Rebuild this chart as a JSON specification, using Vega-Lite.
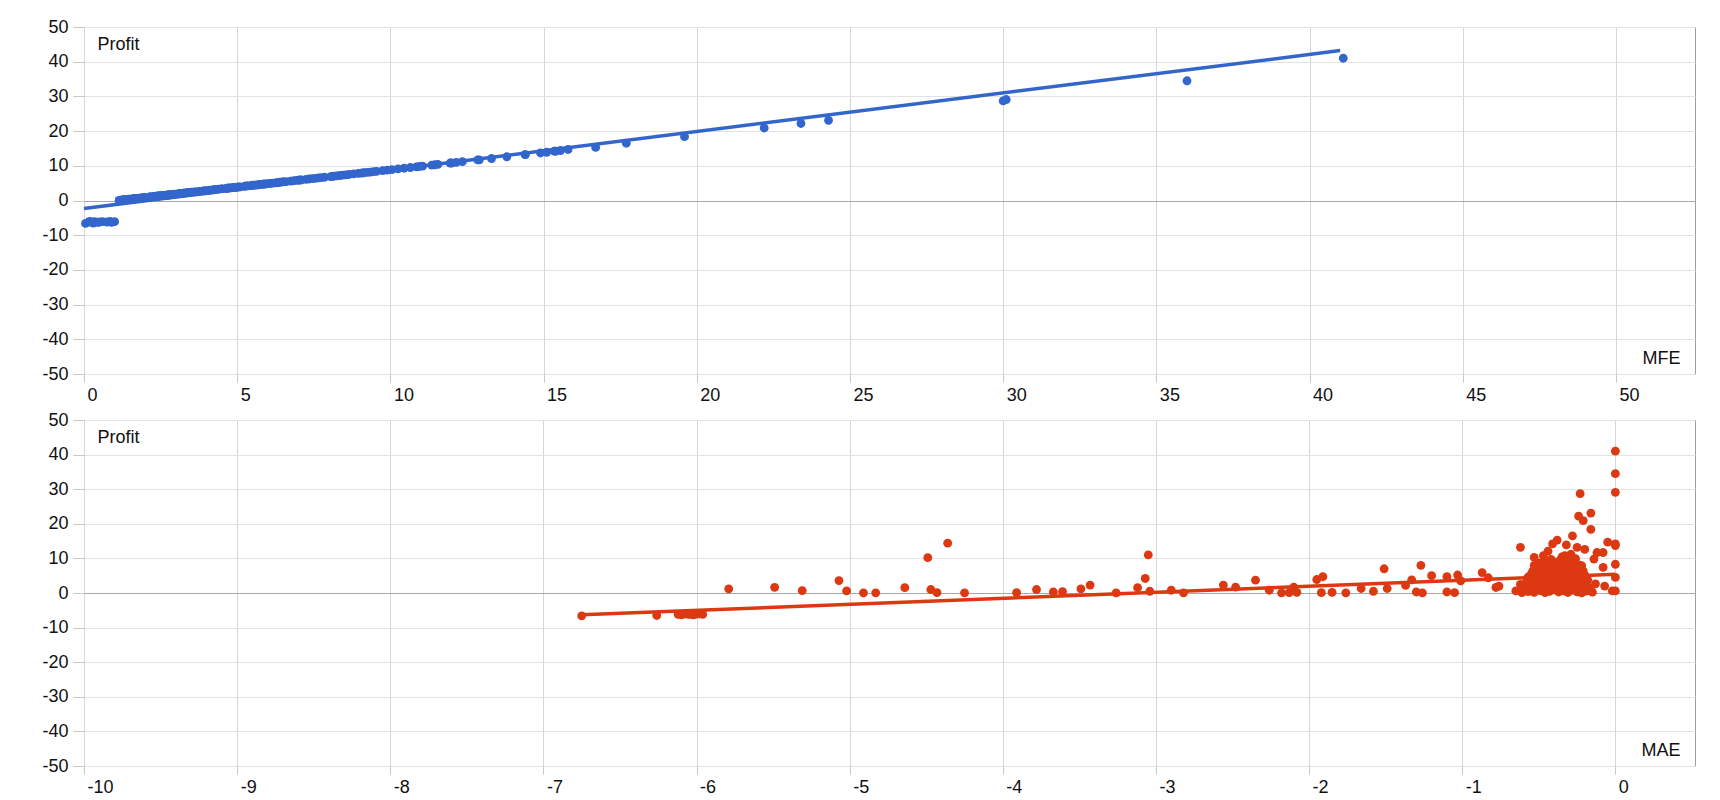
{
  "$schema": "https://vega.github.io/schema/vega-lite/v6.json",
  "padding": {"left": 5, "top": 17, "right": 5, "bottom": 5},
  "spacing": 5,
  "background": "white",
  "config": {
    "font": "Liberation Sans",
    "view": {"stroke": "#9e9e9e", "strokeWidth": 1},
    "axis": {
      "labelFont": "Liberation Sans", "labelFontSize": 18, "labelColor": "#111111",
      "titleFont": "Liberation Sans", "titleFontSize": 18, "titleFontWeight": "normal", "titleColor": "#111111",
      "domain": false, "tickColor": "#c8c8c8",
      "labelFlush": false, "labelOverlap": false, "labelExpr": "'' + datum.value"
    }
  },
  "datasets": {
    "trades": [
      {"MFE":0.05,"MAE":-6.75,"Profit":-6.6},{"MFE":0.3,"MAE":-6.26,"Profit":-6.5},{"MFE":0.15,"MAE":-6.12,"Profit":-6.2},{"MFE":0.45,"MAE":-6.1,"Profit":-6.3},
      {"MFE":0.6,"MAE":-6.08,"Profit":-6.1},{"MFE":0.75,"MAE":-6.05,"Profit":-6.2},{"MFE":0.9,"MAE":-6.02,"Profit":-6.3},{"MFE":1.0,"MAE":-6.0,"Profit":-6.1},
      {"MFE":0.2,"MAE":-5.98,"Profit":-6.0},{"MFE":0.5,"MAE":-5.96,"Profit":-6.2},{"MFE":0.85,"MAE":-6.06,"Profit":-6.0},{"MFE":0.35,"MAE":-6.04,"Profit":-6.1},

      {"MFE":2.35,"MAE":-5.79,"Profit":1.2},{"MFE":2.8,"MAE":-5.49,"Profit":1.65},{"MFE":1.85,"MAE":-5.31,"Profit":0.7},{"MFE":4.75,"MAE":-5.07,"Profit":3.6},
      {"MFE":1.75,"MAE":-5.02,"Profit":0.6},{"MFE":1.2,"MAE":-4.91,"Profit":0.05},{"MFE":1.15,"MAE":-4.83,"Profit":0.05},{"MFE":2.7,"MAE":-4.64,"Profit":1.55},
      {"MFE":2.15,"MAE":-4.47,"Profit":1.0},{"MFE":11.35,"MAE":-4.49,"Profit":10.2},{"MFE":15.55,"MAE":-4.36,"Profit":14.4},{"MFE":1.25,"MAE":-4.43,"Profit":0.1},
      {"MFE":1.2,"MAE":-4.25,"Profit":0.05},{"MFE":1.25,"MAE":-3.91,"Profit":0.1},{"MFE":2.15,"MAE":-3.78,"Profit":1.0},{"MFE":1.45,"MAE":-3.67,"Profit":0.3},
      {"MFE":1.55,"MAE":-3.61,"Profit":0.4},{"MFE":2.35,"MAE":-3.49,"Profit":1.2},{"MFE":3.45,"MAE":-3.43,"Profit":2.3},{"MFE":1.2,"MAE":-3.26,"Profit":0.05},
      {"MFE":2.7,"MAE":-3.12,"Profit":1.55},{"MFE":5.35,"MAE":-3.07,"Profit":4.2},{"MFE":12.15,"MAE":-3.05,"Profit":11.0},{"MFE":1.65,"MAE":-3.04,"Profit":0.5},
      {"MFE":1.95,"MAE":-2.9,"Profit":0.8},{"MFE":1.2,"MAE":-2.82,"Profit":0.05},{"MFE":3.45,"MAE":-2.56,"Profit":2.3},{"MFE":2.85,"MAE":-2.48,"Profit":1.7},
      {"MFE":4.85,"MAE":-2.35,"Profit":3.7},{"MFE":1.95,"MAE":-2.26,"Profit":0.8},{"MFE":1.2,"MAE":-2.18,"Profit":0.05},{"MFE":2.85,"MAE":-2.1,"Profit":1.7},
      {"MFE":1.25,"MAE":-2.13,"Profit":0.1},{"MFE":1.35,"MAE":-2.08,"Profit":0.2},{"MFE":5.05,"MAE":-1.95,"Profit":3.9},{"MFE":5.85,"MAE":-1.91,"Profit":4.7},
      {"MFE":1.25,"MAE":-1.92,"Profit":0.1},{"MFE":1.35,"MAE":-1.85,"Profit":0.2},{"MFE":1.2,"MAE":-1.76,"Profit":0.05},{"MFE":2.45,"MAE":-1.66,"Profit":1.3},
      {"MFE":1.65,"MAE":-1.58,"Profit":0.5},{"MFE":8.15,"MAE":-1.51,"Profit":7.0},{"MFE":2.45,"MAE":-1.49,"Profit":1.3},{"MFE":3.35,"MAE":-1.37,"Profit":2.2},
      {"MFE":4.95,"MAE":-1.33,"Profit":3.8},{"MFE":1.45,"MAE":-1.3,"Profit":0.3},{"MFE":9.15,"MAE":-1.27,"Profit":8.0},{"MFE":1.2,"MAE":-1.26,"Profit":0.05},
      {"MFE":6.15,"MAE":-1.2,"Profit":5.0},{"MFE":5.85,"MAE":-1.1,"Profit":4.7},{"MFE":1.45,"MAE":-1.1,"Profit":0.3},{"MFE":1.25,"MAE":-1.05,"Profit":0.1},
      {"MFE":6.35,"MAE":-1.03,"Profit":5.2},{"MFE":4.65,"MAE":-1.01,"Profit":3.5},{"MFE":7.05,"MAE":-0.87,"Profit":5.9},{"MFE":5.55,"MAE":-0.83,"Profit":4.4},
      {"MFE":2.75,"MAE":-0.78,"Profit":1.6},{"MFE":3.15,"MAE":-0.76,"Profit":2.0},{"MFE":1.75,"MAE":-0.65,"Profit":0.6},{"MFE":14.4,"MAE":-0.62,"Profit":13.2},
      {"MFE":3.65,"MAE":-0.62,"Profit":2.5},

      {"MFE":1.2,"MAE":-0.61,"Profit":0.1},{"MFE":1.5,"MAE":-0.57,"Profit":0.4},{"MFE":1.3,"MAE":-0.53,"Profit":0.2},{"MFE":1.8,"MAE":-0.49,"Profit":0.7},
      {"MFE":1.25,"MAE":-0.46,"Profit":0.1},{"MFE":1.6,"MAE":-0.43,"Profit":0.5},{"MFE":2.0,"MAE":-0.4,"Profit":0.9},{"MFE":1.4,"MAE":-0.37,"Profit":0.3},
      {"MFE":1.75,"MAE":-0.34,"Profit":0.6},{"MFE":1.3,"MAE":-0.31,"Profit":0.15},{"MFE":1.9,"MAE":-0.28,"Profit":0.8},{"MFE":1.45,"MAE":-0.25,"Profit":0.35},
      {"MFE":1.15,"MAE":-0.22,"Profit":0.05},{"MFE":1.65,"MAE":-0.19,"Profit":0.55},{"MFE":1.35,"MAE":-0.15,"Profit":0.25},

      {"MFE":2.6,"MAE":-0.6,"Profit":1.5},{"MFE":2.25,"MAE":-0.56,"Profit":1.1},{"MFE":2.95,"MAE":-0.52,"Profit":1.8},{"MFE":2.4,"MAE":-0.48,"Profit":1.3},
      {"MFE":3.05,"MAE":-0.45,"Profit":1.9},{"MFE":2.3,"MAE":-0.42,"Profit":1.2},{"MFE":2.75,"MAE":-0.39,"Profit":1.6},{"MFE":2.2,"MAE":-0.36,"Profit":1.05},
      {"MFE":2.85,"MAE":-0.33,"Profit":1.7},{"MFE":2.5,"MAE":-0.3,"Profit":1.4},{"MFE":3.1,"MAE":-0.27,"Profit":1.95},{"MFE":2.35,"MAE":-0.24,"Profit":1.25},
      {"MFE":2.8,"MAE":-0.2,"Profit":1.65},{"MFE":2.55,"MAE":-0.17,"Profit":1.45},

      {"MFE":3.5,"MAE":-0.59,"Profit":2.4},{"MFE":3.25,"MAE":-0.55,"Profit":2.1},{"MFE":3.95,"MAE":-0.51,"Profit":2.8},{"MFE":3.4,"MAE":-0.47,"Profit":2.3},
      {"MFE":4.1,"MAE":-0.44,"Profit":2.95},{"MFE":3.3,"MAE":-0.41,"Profit":2.2},{"MFE":3.75,"MAE":-0.38,"Profit":2.6},{"MFE":3.2,"MAE":-0.35,"Profit":2.05},
      {"MFE":3.9,"MAE":-0.32,"Profit":2.75},{"MFE":3.6,"MAE":-0.29,"Profit":2.5},{"MFE":4.05,"MAE":-0.26,"Profit":2.9},{"MFE":3.45,"MAE":-0.21,"Profit":2.35},
      {"MFE":3.8,"MAE":-0.13,"Profit":2.65},

      {"MFE":4.4,"MAE":-0.58,"Profit":3.3},{"MFE":4.95,"MAE":-0.54,"Profit":3.8},{"MFE":4.25,"MAE":-0.5,"Profit":3.1},{"MFE":4.7,"MAE":-0.46,"Profit":3.6},
      {"MFE":5.1,"MAE":-0.43,"Profit":3.95},{"MFE":4.3,"MAE":-0.4,"Profit":3.2},{"MFE":4.85,"MAE":-0.36,"Profit":3.7},{"MFE":4.5,"MAE":-0.33,"Profit":3.4},
      {"MFE":5.0,"MAE":-0.3,"Profit":3.85},{"MFE":4.2,"MAE":-0.27,"Profit":3.05},{"MFE":4.65,"MAE":-0.23,"Profit":3.5},{"MFE":4.9,"MAE":-0.18,"Profit":3.75},

      {"MFE":5.75,"MAE":-0.57,"Profit":4.6},{"MFE":5.3,"MAE":-0.52,"Profit":4.2},{"MFE":6.05,"MAE":-0.48,"Profit":4.9},{"MFE":5.5,"MAE":-0.44,"Profit":4.4},
      {"MFE":5.9,"MAE":-0.41,"Profit":4.75},{"MFE":5.25,"MAE":-0.37,"Profit":4.1},{"MFE":5.7,"MAE":-0.34,"Profit":4.55},{"MFE":6.1,"MAE":-0.31,"Profit":4.95},
      {"MFE":5.45,"MAE":-0.28,"Profit":4.3},{"MFE":5.95,"MAE":-0.24,"Profit":4.8},{"MFE":5.6,"MAE":-0.19,"Profit":4.45},

      {"MFE":6.5,"MAE":-0.55,"Profit":5.4},{"MFE":6.95,"MAE":-0.5,"Profit":5.8},{"MFE":6.25,"MAE":-0.46,"Profit":5.1},{"MFE":6.75,"MAE":-0.42,"Profit":5.6},
      {"MFE":7.1,"MAE":-0.38,"Profit":5.95},{"MFE":6.4,"MAE":-0.35,"Profit":5.25},{"MFE":6.85,"MAE":-0.31,"Profit":5.7},{"MFE":6.6,"MAE":-0.27,"Profit":5.45},
      {"MFE":7.0,"MAE":-0.23,"Profit":5.85},{"MFE":6.3,"MAE":-0.2,"Profit":5.15},

      {"MFE":7.45,"MAE":-0.54,"Profit":6.3},{"MFE":7.85,"MAE":-0.49,"Profit":6.7},{"MFE":7.25,"MAE":-0.45,"Profit":6.1},{"MFE":7.65,"MAE":-0.4,"Profit":6.5},
      {"MFE":8.05,"MAE":-0.36,"Profit":6.9},{"MFE":7.35,"MAE":-0.32,"Profit":6.2},{"MFE":7.75,"MAE":-0.29,"Profit":6.6},{"MFE":8.1,"MAE":-0.25,"Profit":6.95},
      {"MFE":7.55,"MAE":-0.21,"Profit":6.4},

      {"MFE":8.65,"MAE":-0.52,"Profit":7.5},{"MFE":8.25,"MAE":-0.47,"Profit":7.1},{"MFE":8.95,"MAE":-0.43,"Profit":7.8},{"MFE":8.45,"MAE":-0.38,"Profit":7.3},
      {"MFE":8.8,"MAE":-0.33,"Profit":7.65},{"MFE":8.35,"MAE":-0.28,"Profit":7.2},{"MFE":9.05,"MAE":-0.22,"Profit":7.9},

      {"MFE":9.75,"MAE":-0.5,"Profit":8.6},{"MFE":9.35,"MAE":-0.44,"Profit":8.2},{"MFE":10.05,"MAE":-0.39,"Profit":8.9},{"MFE":9.55,"MAE":-0.34,"Profit":8.4},
      {"MFE":9.9,"MAE":-0.29,"Profit":8.75},{"MFE":9.25,"MAE":-0.24,"Profit":8.1},

      {"MFE":10.45,"MAE":-0.47,"Profit":9.3},{"MFE":10.85,"MAE":-0.42,"Profit":9.7},{"MFE":10.25,"MAE":-0.37,"Profit":9.1},{"MFE":10.65,"MAE":-0.3,"Profit":9.5},
      {"MFE":11.05,"MAE":-0.26,"Profit":9.9},

      {"MFE":11.55,"MAE":-0.35,"Profit":10.4},{"MFE":12.35,"MAE":-0.29,"Profit":11.2},{"MFE":13.3,"MAE":-0.44,"Profit":12.1},{"MFE":13.8,"MAE":-0.2,"Profit":12.6},
      {"MFE":12.9,"MAE":-0.12,"Profit":11.7},

      {"MFE":11.45,"MAE":-0.53,"Profit":10.3},{"MFE":9.1,"MAE":-0.53,"Profit":7.95},{"MFE":11.95,"MAE":-0.47,"Profit":10.8},{"MFE":15.35,"MAE":-0.41,"Profit":14.2},
      {"MFE":16.7,"MAE":-0.38,"Profit":15.3},{"MFE":12.0,"MAE":-0.33,"Profit":10.8},{"MFE":15.1,"MAE":-0.32,"Profit":13.9},{"MFE":17.7,"MAE":-0.28,"Profit":16.5},
      {"MFE":14.4,"MAE":-0.25,"Profit":13.2},{"MFE":30.0,"MAE":-0.23,"Profit":28.7},{"MFE":23.4,"MAE":-0.24,"Profit":22.2},{"MFE":22.2,"MAE":-0.21,"Profit":20.9},
      {"MFE":24.3,"MAE":-0.16,"Profit":23.1},{"MFE":19.6,"MAE":-0.16,"Profit":18.4},{"MFE":10.95,"MAE":-0.14,"Profit":9.8},{"MFE":8.55,"MAE":-0.08,"Profit":7.4},
      {"MFE":15.8,"MAE":-0.05,"Profit":14.7},{"MFE":12.85,"MAE":-0.08,"Profit":11.7},{"MFE":3.15,"MAE":-0.07,"Profit":2.0},{"MFE":1.75,"MAE":-0.02,"Profit":0.6},
      {"MFE":41.1,"MAE":0.0,"Profit":41.0},{"MFE":36.0,"MAE":0.0,"Profit":34.5},{"MFE":30.1,"MAE":0.0,"Profit":29.1},{"MFE":15.4,"MAE":0.0,"Profit":14.2},
      {"MFE":14.9,"MAE":0.0,"Profit":13.7},{"MFE":9.45,"MAE":0.0,"Profit":8.3},{"MFE":5.65,"MAE":0.0,"Profit":4.5},{"MFE":1.7,"MAE":0.0,"Profit":0.6}
    ],
    "trendMFE": [{"MFE":0,"Profit":-2.3},{"MFE":41.0,"Profit":43.2}],
    "trendMAE": [{"MAE":-6.75,"Profit":-6.3},{"MAE":0,"Profit":5.4}]
  },
  "vconcat": [
    {
      "width": 1611, "height": 347,
      "encoding": {
        "x": {"field": "MFE", "type": "quantitative", "scale": {"domain": [0, 52.58], "nice": false, "zero": false},
          "axis": {"values": [0,5,10,15,20,25,30,35,40,45,50], "grid": true, "gridColor": "#d6d6d6", "tickSize": 8, "labelPadding": 4, "labelAlign": "left", "labelOffset": 3, "minExtent": 30, "maxExtent": 30,
            "title": "MFE", "titleX": 1596, "titleY": -16, "titleAlign": "right", "titleBaseline": "middle", "titleAngle": 0}},
        "y": {"field": "Profit", "type": "quantitative", "scale": {"domain": [-50, 50], "nice": false},
          "axis": {"values": [-50,-40,-30,-20,-10,0,10,20,30,40,50], "grid": true,
            "gridColor": {"condition": {"test": "datum.value === 0", "value": "#a8a8a8"}, "value": "#e2e2e2"},
            "tickSize": 11, "labelPadding": 5, "minExtent": 78, "maxExtent": 78,
            "title": "Profit", "titleX": 13, "titleY": 17, "titleAlign": "left", "titleBaseline": "middle", "titleAngle": 0}}
      },
      "layer": [
        {"data": {"name": "trendMFE"}, "mark": {"type": "line", "color": "#3366cc", "strokeWidth": 3.5}},
        {"data": {"name": "trades"}, "mark": {"type": "circle", "color": "#3366cc", "size": 78, "opacity": 1}}
      ]
    },
    {
      "width": 1611, "height": 346,
      "encoding": {
        "x": {"field": "MAE", "type": "quantitative", "scale": {"domain": [-10, 0.52], "nice": false, "zero": false},
          "axis": {"values": [-10,-9,-8,-7,-6,-5,-4,-3,-2,-1,0], "grid": true, "gridColor": "#d6d6d6", "tickSize": 8, "labelPadding": 4, "labelAlign": "left", "labelOffset": 3, "minExtent": 30, "maxExtent": 30,
            "title": "MAE", "titleX": 1596, "titleY": -16, "titleAlign": "right", "titleBaseline": "middle", "titleAngle": 0}},
        "y": {"field": "Profit", "type": "quantitative", "scale": {"domain": [-50, 50], "nice": false},
          "axis": {"values": [-50,-40,-30,-20,-10,0,10,20,30,40,50], "grid": true,
            "gridColor": {"condition": {"test": "datum.value === 0", "value": "#a8a8a8"}, "value": "#e2e2e2"},
            "tickSize": 11, "labelPadding": 5, "minExtent": 78, "maxExtent": 78,
            "title": "Profit", "titleX": 13, "titleY": 17, "titleAlign": "left", "titleBaseline": "middle", "titleAngle": 0}}
      },
      "layer": [
        {"data": {"name": "trendMAE"}, "mark": {"type": "line", "color": "#dc3912", "strokeWidth": 3.5}},
        {"data": {"name": "trades"}, "mark": {"type": "circle", "color": "#dc3912", "size": 78, "opacity": 1}}
      ]
    }
  ]
}
